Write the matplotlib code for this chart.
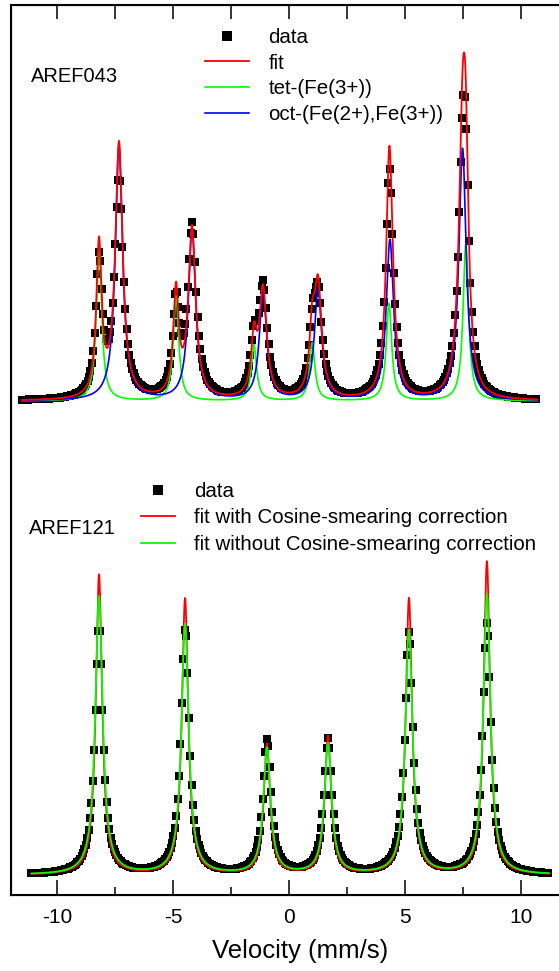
import numpy as np
import matplotlib
matplotlib.use('Agg')
import matplotlib.pyplot as plt

plt.rcParams['font.family'] = ['Liberation Sans', 'DejaVu Sans']
plt.rcParams['axes.unicode_minus'] = False

# AREF043 - two sextets (line positions mm/s, heights, half widths)
tet_pos = [-8.19, -4.87, -1.51, 1.00, 4.31, 7.62]
tet_h = [152, 105, 56, 58, 97, 157]
tet_w = 0.14
oct_pos = [-7.33, -4.18, -1.12, 1.25, 4.35, 7.48]
oct_h = [255, 170, 108, 110, 160, 252]
oct_w = 0.19
data_tet_h = [135, 92, 50, 50, 82, 132]
data_tet_w = 0.165
data_oct_h = [218, 172, 110, 100, 150, 215]
data_oct_w = 0.22
top_base = 494
top_range = (-11.5, 10.7)

# AREF121 - one sextet, fit with / without cosine smearing correction
aref121_pos = [-8.19, -4.48, -0.95, 1.68, 5.17, 8.53]
with_corr_h = [300, 276, 130, 138, 276, 313]
with_corr_w = 0.165
without_corr_h = [278, 250, 126, 130, 244, 280]
without_corr_w = 0.19
data121_h = [248, 246, 134, 135, 242, 251]
data121_w = 0.21
bot_base = 20
bot_range = (-11.1, 11.2)

channel_step = 0.06


def sextet(v, pos, height, hwhm):
    out = np.zeros_like(v)
    for p, h in zip(pos, height):
        out += h / (1.0 + ((v - p) / hwhm) ** 2)
    return out


fig = plt.figure(figsize=(5.59, 9.71), dpi=100)
W, H = 559.0, 971.0
ax = fig.add_axes([10.6 / W, 76 / H, 580 / W, 890 / H])

# top spectrum
v = np.linspace(*top_range, 3000)
tet = sextet(v, tet_pos, tet_h, tet_w)
octa = sextet(v, oct_pos, oct_h, oct_w)
ch = np.arange(top_range[0], top_range[1], channel_step)
data_top = (top_base + sextet(ch, tet_pos, data_tet_h, data_tet_w)
            + sextet(ch, oct_pos, data_oct_h, data_oct_w))

h_data, = ax.plot(ch, data_top, 's', color='black', ms=6.3, mew=0, zorder=1)
h_tet, = ax.plot(v, top_base + tet, color='#00ff00', lw=1.2, zorder=2)
h_oct, = ax.plot(v, top_base + octa, color='#0000ff', lw=1.2, zorder=3)
h_fit, = ax.plot(v, top_base + tet + octa, color='#ff0000', lw=1.3, zorder=4)

# bottom spectrum
v2 = np.linspace(*bot_range, 3000)
ch2 = np.arange(bot_range[0], bot_range[1], channel_step)
data_bot = bot_base + sextet(ch2, aref121_pos, data121_h, data121_w)
ax.plot(ch2, data_bot, 's', color='black', ms=6.3, mew=0, zorder=1)
h_with, = ax.plot(v2, bot_base + sextet(v2, aref121_pos, with_corr_h, with_corr_w),
                  color='#ff0000', lw=1.3, zorder=2)
h_without, = ax.plot(v2, bot_base + sextet(v2, aref121_pos, without_corr_h, without_corr_w),
                     color='#00ff00', lw=1.3, zorder=3)

ax.set_xlim(-12, 13)
ax.set_ylim(0, 890)
ax.set_yticks([])
ax.set_xticks([-10, -5, 0, 5, 10])
ax.set_xticks(np.arange(-10, 12.5, 2.5), minor=True)
ax.tick_params(axis='x', which='major', direction='in', length=11, width=1.1,
               labelsize=15, pad=9)
ax.tick_params(axis='x', which='minor', direction='in', length=6, width=1.1)
for s in ax.spines.values():
    s.set_linewidth(1.5)
ax.set_xlabel('Velocity (mm/s)', fontsize=18.5, labelpad=9)

top = ax.twiny()
top.set_xlim(ax.get_xlim())
top.set_xticks(np.arange(-10, 12.5, 2.5))
top.tick_params(axis='x', direction='in', length=10, width=1.1, labeltop=False)
top.spines['right'].set_visible(False)

fig.text(31 / W, 1 - 76 / H, 'AREF043', fontsize=14.5, va='center')
fig.text(29 / W, 1 - 528 / H, 'AREF121', fontsize=14.5, va='center')

leg1 = ax.legend([h_data, h_fit, h_tet, h_oct],
                 ['data', 'fit', 'tet-(Fe(3+))', 'oct-(Fe(2+),Fe(3+))'],
                 loc='upper left', bbox_to_anchor=(205 / W, 1 - 28 / H),
                 bbox_transform=fig.transFigure, frameon=False, fontsize=14.8,
                 handlelength=2.15, handletextpad=0.93, labelspacing=0.32,
                 borderpad=0, borderaxespad=0, numpoints=1, markerscale=1.1)
ax.add_artist(leg1)
ax.legend([h_data, h_with, h_without],
          ['data', 'fit with Cosine-smearing correction',
           'fit without Cosine-smearing correction'],
          loc='upper left', bbox_to_anchor=(141 / W, 1 - 482 / H),
          bbox_transform=fig.transFigure, frameon=False, fontsize=14.8,
          handlelength=1.65, handletextpad=0.93, labelspacing=0.36,
          borderpad=0, borderaxespad=0, numpoints=1, markerscale=1.1)

fig.savefig('out.png', dpi=100)
